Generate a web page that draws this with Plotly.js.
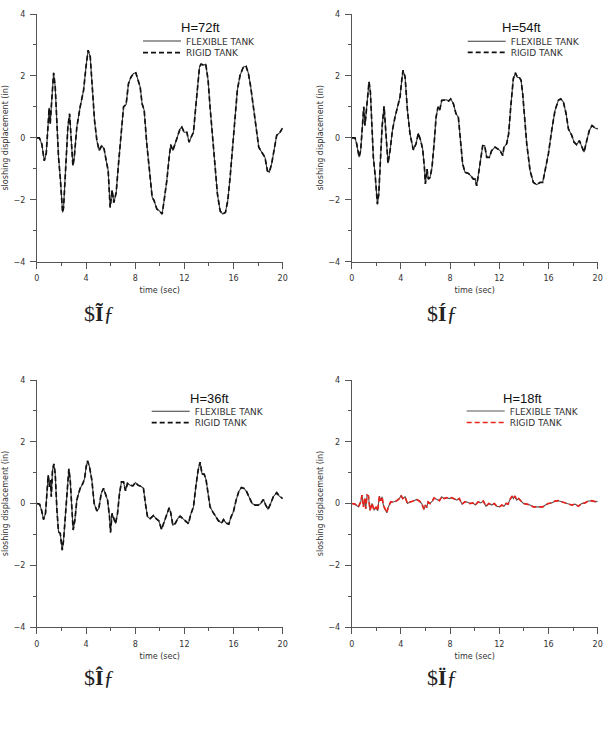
<!DOCTYPE html>
<html><head><meta charset="utf-8">
<script src="https://cdn.plot.ly/plotly-3.0.1.min.js"></script>
<style>html,body{margin:0;padding:0;background:#fff}</style>
</head><body><div id="chart" style="width:605px;height:736px"></div>
<script>
// ---- data ----
const xTickVals = [0, 4, 8, 12, 16, 20];
const yTickVals = [-4, -2, 0, 2, 4];
const panelTitles = ['H=72ft', 'H=54ft', 'H=36ft', 'H=18ft'];
const subLabels = ['$<b>Ĩ</b>ƒ', '$<b>Í</b>ƒ', '$<b>Î</b>ƒ', '$<b>Ï</b>ƒ'];
const seriesNames = ['FLEXIBLE TANK', 'RIGID TANK'];

const t72 = [0,0.2,0.4,0.6,0.76,0.9,1.0,1.08,1.17,1.36,1.49,1.63,1.76,1.9,2.09,2.17,2.36,2.52,2.66,2.76,2.93,3.04,3.25,3.52,3.8,4.01,4.17,4.34,4.5,4.69,4.88,5.07,5.28,5.47,5.64,5.8,5.96,6.12,6.26,6.45,6.64,6.83,7.05,7.26,7.45,7.64,7.86,8.05,8.24,8.4,8.56,8.73,8.94,9.16,9.38,9.54,9.76,9.97,10.19,10.35,10.57,10.76,10.89,11.06,11.25,11.44,11.65,11.79,11.98,12.2,12.38,12.55,12.74,12.9,13.06,13.23,13.36,13.55,13.74,13.93,14.09,14.31,14.5,14.69,14.91,15.12,15.34,15.53,15.72,15.91,16.12,16.31,16.53,16.8,17.02,17.21,17.4,17.62,17.83,18.05,18.29,18.56,18.75,18.91,19.1,19.29,19.51,19.78,20];
const flex72 = [0,0,-0.2,-0.74,-0.5,0.24,0.97,0.45,0.89,2.1,1.65,0.35,-0.63,-1.28,-2.41,-2.25,-0.73,0.35,0.78,0.24,-0.9,-0.63,0.35,1.0,1.54,2.35,2.83,2.62,1.75,0.56,-0.09,-0.41,-0.25,-0.36,-0.74,-1.06,-2.25,-1.69,-2.09,-1.77,-0.84,0.13,1.0,1.08,1.75,1.95,2.08,2.1,1.86,1.65,1.1,0.89,-0.19,-1.17,-1.92,-2.03,-2.3,-2.36,-2.46,-2.03,-1.38,-0.63,-0.22,-0.41,-0.19,0.08,0.29,0.35,0.18,0.18,-0.14,0.02,0.18,0.89,1.64,2.29,2.38,2.35,2.38,1.86,0.99,-0.09,-1.06,-1.82,-2.36,-2.46,-2.41,-2.03,-1.28,-0.3,0.78,1.54,2.02,2.29,2.31,2.08,1.64,1.0,0.35,-0.3,-0.46,-0.63,-1.06,-1.11,-0.84,-0.41,0.08,0.18,0.32];
const rigid72 = flex72;

const t54 = [0,0.27,0.41,0.6,0.73,0.87,0.98,1.08,1.19,1.3,1.41,1.52,1.63,1.76,1.9,2.09,2.2,2.33,2.47,2.63,2.74,2.85,2.95,3.12,3.31,3.52,3.74,3.93,4.07,4.17,4.34,4.53,4.74,5.01,5.23,5.42,5.61,5.77,5.91,5.99,6.12,6.23,6.37,6.53,6.72,6.86,7.02,7.15,7.32,7.51,7.72,7.89,8.05,8.27,8.48,8.67,8.86,9.02,9.21,9.49,9.67,9.89,10.03,10.16,10.33,10.49,10.65,10.81,10.98,11.19,11.38,11.65,11.84,12.06,12.28,12.38,12.6,12.76,12.93,13.14,13.31,13.47,13.63,13.77,13.9,14.04,14.23,14.5,14.77,15.04,15.31,15.53,15.72,15.99,16.26,16.53,16.8,16.99,17.21,17.43,17.62,17.89,18.08,18.29,18.51,18.7,18.89,19.11,19.32,19.54,19.78,20];
const flex54 = [0,0,-0.2,-0.62,-0.41,0.24,1.0,0.4,0.89,1.32,1.81,1.48,0.45,-0.63,-1.17,-2.14,-1.82,-0.52,0.35,1.02,0.45,-0.19,-0.82,-0.41,0.24,0.67,1.0,1.32,1.86,2.18,1.97,0.89,0.13,-0.39,-0.19,0.15,-0.09,-0.36,-0.95,-1.49,-1.01,-1.33,-1.28,-0.95,-0.09,0.67,1.0,0.89,1.21,1.21,1.23,1.19,1.26,1.1,0.78,0.67,-0.19,-0.84,-1.11,-1.15,-1.22,-1.33,-1.33,-1.55,-1.11,-0.74,-0.25,-0.25,-0.63,-0.63,-0.41,-0.3,-0.36,-0.41,-0.57,-0.3,-0.19,0.13,1.0,1.91,2.1,1.95,1.95,1.86,1.43,0.67,-0.19,-1.06,-1.44,-1.51,-1.44,-1.44,-1.06,-0.52,0.24,0.89,1.21,1.26,1.16,0.78,0.29,0.08,-0.14,-0.22,-0.09,-0.3,-0.46,-0.09,0.24,0.4,0.32,0.29];
const rigid54 = flex54;

const t36 = [0,0.22,0.38,0.54,0.7,0.81,0.92,1.03,1.11,1.17,1.27,1.38,1.49,1.63,1.76,1.9,2.06,2.17,2.33,2.44,2.6,2.71,2.82,2.95,3.09,3.25,3.39,3.52,3.74,3.88,4.01,4.12,4.28,4.47,4.66,4.88,5.04,5.23,5.42,5.61,5.75,5.91,5.99,6.12,6.23,6.4,6.56,6.72,6.88,7.05,7.21,7.37,7.59,7.81,8.02,8.24,8.46,8.67,8.83,9.0,9.21,9.49,9.7,9.92,10.14,10.35,10.57,10.76,10.89,11.06,11.25,11.46,11.65,11.87,12.09,12.33,12.52,12.74,12.93,13.12,13.28,13.44,13.61,13.77,13.93,14.09,14.31,14.53,14.77,15.04,15.18,15.39,15.61,15.8,15.99,16.21,16.42,16.64,16.86,17.07,17.29,17.51,17.75,18.02,18.21,18.43,18.62,18.81,19.02,19.24,19.51,19.73,20];
const flex36 = [0,-0.02,-0.22,-0.52,-0.32,0.22,0.92,0.54,0.76,0.22,1.08,1.28,0.97,-0.22,-0.92,-0.97,-1.51,-1.19,-0.22,0.43,1.12,0.76,-0.11,-0.86,-0.54,0.11,0.32,0.49,0.65,0.81,1.19,1.38,1.19,0.76,0,-0.24,-0.16,0.32,0.49,0.22,0.11,-0.43,-0.94,-0.32,-0.43,-0.65,-0.32,0.32,0.7,0.7,0.41,0.65,0.59,0.57,0.68,0.59,0.56,0.49,0,-0.43,-0.49,-0.39,-0.49,-0.56,-0.84,-0.59,-0.38,-0.14,-0.3,-0.7,-0.65,-0.49,-0.41,-0.49,-0.54,-0.65,-0.35,-0.11,0.54,1.08,1.34,0.95,0.95,0.76,0.32,-0.11,-0.27,-0.43,-0.56,-0.63,-0.52,-0.63,-0.67,-0.43,-0.27,0.11,0.38,0.52,0.49,0.38,0.16,0,-0.05,-0.05,0,0.13,-0.05,-0.19,0,0.22,0.35,0.24,0.16];
const rigid36 = flex36;

const t18 = [0,0.27,0.54,0.73,0.84,0.95,1.06,1.14,1.25,1.36,1.49,1.65,1.82,1.98,2.11,2.25,2.36,2.47,2.57,2.71,2.85,2.98,3.17,3.39,3.66,3.88,4.01,4.15,4.34,4.53,4.74,5.01,5.28,5.5,5.69,5.88,5.99,6.1,6.21,6.37,6.56,6.69,6.91,7.13,7.32,7.51,7.72,7.94,8.13,8.32,8.54,8.75,8.97,9.19,9.4,9.62,9.84,10.05,10.27,10.49,10.7,10.92,11.14,11.38,11.6,11.79,12.01,12.2,12.38,12.55,12.71,12.87,13.04,13.14,13.28,13.41,13.58,13.74,13.96,14.23,14.5,14.77,15.04,15.31,15.53,15.75,15.99,16.26,16.53,16.8,17.07,17.34,17.62,17.89,18.16,18.43,18.7,18.97,19.24,19.51,19.78,20];
const flex18 = [0,-0.02,-0.11,0.05,0.27,-0.11,0.16,-0.17,0.27,0.24,-0.22,0,-0.22,-0.11,-0.24,0.24,0.09,0.22,-0.05,-0.16,-0.3,-0.11,0.05,0.05,0.09,0.16,0.26,0.16,0.22,0,0.05,0.08,0.13,0.08,0,-0.19,-0.05,-0.13,0.05,0,0.08,0.18,0.13,0.09,0.22,0.16,0.19,0.16,0.19,0.16,0.11,0.16,-0.02,0.05,0.05,0,0.02,-0.05,0.05,0.02,0.08,-0.09,0,-0.05,0,-0.09,-0.11,-0.05,-0.09,0,-0.02,0.13,0.24,0.16,0.24,0.11,0.16,0.09,0,-0.02,-0.05,-0.11,-0.11,-0.13,-0.11,-0.05,0,0.02,0.08,0.09,0.05,0.02,-0.02,-0.05,-0.02,-0.09,0,0.02,0.08,0.09,0.06,0.07];
const rigid18 = flex18;

// ---- build ----
const W = 605, H = 736;
const panels = [
  {t: t72, flex: flex72, rigid: rigid72, rigidColor: '#111', flexColor: '#3a3a3a',
   x0: 36.9, x1: 282.7, y0: 14, y1: 261.7, legX: 138, legY: [41, 52.7], hx: 200, hy: 27.3, sx: 99, sy: 313},
  {t: t54, flex: flex54, rigid: rigid54, rigidColor: '#111', flexColor: '#3a3a3a',
   x0: 351.7, x1: 597.7, y0: 14, y1: 261.7, legX: 462.7, legY: [41.3, 52.3], hx: 521, hy: 27, sx: 442, sy: 313},
  {t: t36, flex: flex36, rigid: rigid36, rigidColor: '#111', flexColor: '#3a3a3a',
   x0: 36.9, x1: 282.7, y0: 380, y1: 627, legX: 146.7, legY: [411.3, 422.7], hx: 209, hy: 398.3, sx: 99, sy: 677},
  {t: t18, flex: flex18, rigid: rigid18, rigidColor: '#e8231c', flexColor: '#555',
   x0: 351.7, x1: 597.7, y0: 380, y1: 627, legX: 461.7, legY: [411, 422.5], hx: 522, hy: 398, sx: 442, sy: 677}
];

const axisColor = '#555';
const textColor = '#333';
const font = 'DejaVu Sans, sans-serif';
const traces = [];
const layout = {
  width: W, height: H, margin: {l: 0, r: 0, t: 0, b: 0},
  paper_bgcolor: '#fff', plot_bgcolor: '#fff', showlegend: true,
  font: {family: font, color: textColor}, annotations: []
};

panels.forEach((p, i) => {
  const n = i + 1;
  const xa = n === 1 ? 'x' : 'x' + n;
  const ya = n === 1 ? 'y' : 'y' + n;
  const l1 = 'legend' + (2 * i + 1 === 1 ? '' : (2 * i + 1));
  const l2 = 'legend' + (2 * i + 2);
  traces.push({x: p.t, y: p.flex, xaxis: xa, yaxis: ya, type: 'scatter', mode: 'lines',
    name: seriesNames[0], legend: l1, line: {color: p.flexColor, width: 1.1}, hoverinfo: 'skip'});
  traces.push({x: p.t, y: p.rigid, xaxis: xa, yaxis: ya, type: 'scatter', mode: 'lines',
    name: seriesNames[1], legend: l2, line: {color: p.rigidColor, width: 1.7, dash: '5px,3px'}, hoverinfo: 'skip'});

  const common = {showline: true, linecolor: axisColor, linewidth: 1, ticks: 'outside', ticklen: 6,
    tickcolor: axisColor, tickwidth: 1, showgrid: false, zeroline: false, fixedrange: true,
    tickfont: {family: font, size: 8, color: textColor}, ticklabelstandoff: 3};
  layout['xaxis' + (n === 1 ? '' : n)] = Object.assign({}, common, {
    domain: [p.x0 / W, p.x1 / W], anchor: ya, range: [0, 20], tickmode: 'array', tickvals: xTickVals,
    minor: {dtick: 2, tick0: 0, ticks: 'outside', ticklen: 3, tickcolor: axisColor, showgrid: false},
    title: {text: 'time (sec)', font: {family: font, size: 8, color: textColor}, standoff: 5}
  });
  layout['yaxis' + (n === 1 ? '' : n)] = Object.assign({}, common, {
    domain: [1 - p.y1 / H, 1 - p.y0 / H], anchor: xa, range: [-4, 4], tickmode: 'array', tickvals: yTickVals,
    minor: {dtick: 1, tick0: 0, ticks: 'outside', ticklen: 3, tickcolor: axisColor, showgrid: false},
    title: {text: 'sloshing displacement (in)', font: {family: font, size: 8, color: textColor}, standoff: 3}
  });
  const legBase = {xref: 'paper', yref: 'paper', xanchor: 'left', yanchor: 'middle',
    bgcolor: 'rgba(0,0,0,0)', borderwidth: 0, itemwidth: 38, itemclick: false, itemdoubleclick: false,
    font: {family: font, size: 9, color: textColor}};
  layout[l1] = Object.assign({}, legBase, {x: p.legX / W, y: 1 - p.legY[0] / H});
  layout[l2] = Object.assign({}, legBase, {x: p.legX / W, y: 1 - p.legY[1] / H});

  layout.annotations.push({xref: 'paper', yref: 'paper', x: p.hx / W, y: 1 - p.hy / H,
    xanchor: 'center', yanchor: 'middle', showarrow: false, text: panelTitles[i],
    font: {family: 'Liberation Sans, Arial, sans-serif', size: 13, color: '#111'}});
  layout.annotations.push({xref: 'paper', yref: 'paper', x: p.sx / W, y: 1 - p.sy / H,
    xanchor: 'center', yanchor: 'middle', showarrow: false, text: subLabels[i],
    font: {family: 'Liberation Serif, serif', size: 22, color: '#222'}});
});

Plotly.newPlot('chart', traces, layout, {displayModeBar: false, staticPlot: true});
</script></body></html>
